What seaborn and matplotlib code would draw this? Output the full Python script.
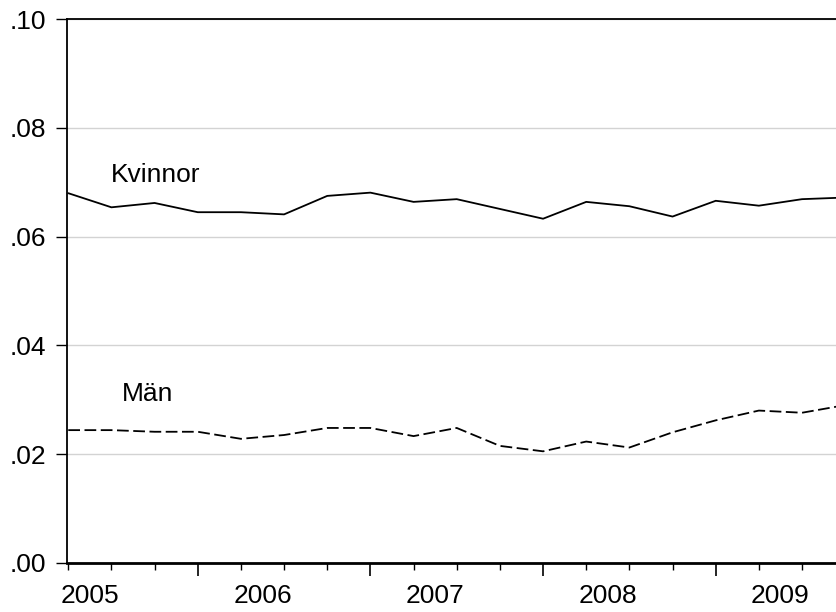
import pandas as pd
import matplotlib
matplotlib.use("Agg")
import matplotlib.pyplot as plt
import seaborn as sns
from matplotlib.ticker import FuncFormatter, FixedLocator

# quarterly series, 2005Q2 .. 2009Q4
quarter = list(range(19))
kvinnor = [0.0680, 0.0654, 0.0662, 0.0645, 0.0645, 0.0641, 0.0675, 0.0681, 0.0664,
           0.0669, 0.0651, 0.0633, 0.0664, 0.0656, 0.0637, 0.0666, 0.0657, 0.0669, 0.0672]
man = [0.0244, 0.0244, 0.0241, 0.0241, 0.0228, 0.0235, 0.0248, 0.0248, 0.0233,
       0.0248, 0.0215, 0.0205, 0.0223, 0.0212, 0.0240, 0.0262, 0.0280, 0.0276, 0.0290]
years = ["2005", "2006", "2007", "2008", "2009"]
year_pos = [0.5, 4.5, 8.5, 12.5, 16.5]
year_ticks = [3, 7, 11, 15]

sns.set_style("white")
plt.rcParams['font.family'] = ['Liberation Sans', 'DejaVu Sans']
plt.rcParams['text.color'] = 'black'
plt.rcParams['xtick.color'] = 'black'
plt.rcParams['ytick.color'] = 'black'

df = pd.DataFrame({"q": quarter, "Kvinnor": kvinnor, "Män": man})

fig = plt.figure(figsize=(8.37, 6.12), dpi=100)
ax = fig.add_axes([0.080, 0.0805, 0.92, 0.888])

sns.lineplot(data=df, x="q", y="Kvinnor", color="black", linewidth=1.3, ax=ax)
sns.lineplot(data=df, x="q", y="Män", color="black", linewidth=1.3,
             linestyle=(0, (6.5, 2.5)), ax=ax)

ax.set_xlim(-0.03, 17.81)
ax.set_ylim(0, 0.10)
ax.set_xlabel("")
ax.set_ylabel("")

# y axis
ax.set_yticks([0, 0.02, 0.04, 0.06, 0.08, 0.10])
ax.yaxis.set_major_formatter(FuncFormatter(lambda v, p: f"{v:.2f}".lstrip("0")))
ax.tick_params(axis="y", which="major", left=True, length=8, width=1,
               pad=7, labelsize=19, labelcolor="black")
ax.yaxis.grid(True, color="#d3d3d3", linewidth=1)
ax.set_axisbelow(True)

# x axis: long ticks at year breaks, short ones at quarters
ax.xaxis.set_major_locator(FixedLocator(year_ticks))
ax.xaxis.set_minor_locator(FixedLocator([q for q in quarter if q not in year_ticks]))
ax.set_xticklabels([])
ax.tick_params(axis="x", which="major", bottom=True, length=9, width=1.2, color="black")
ax.tick_params(axis="x", which="minor", bottom=True, length=5, width=1, color="black")
for x, lab in zip(year_pos, years):
    ax.text(x, -0.0605, lab, transform=ax.get_xaxis_transform(),
            ha="center", va="center", fontsize=19, color="black")

for side in ["left", "top"]:
    ax.spines[side].set_color("black")
    ax.spines[side].set_linewidth(1.3)
ax.spines["bottom"].set_color("black")
ax.spines["bottom"].set_linewidth(2)
ax.spines["right"].set_visible(False)

ax.text(0.98, 0.0701, "Kvinnor", fontsize=19, ha="left", va="baseline", color="black")
ax.text(1.25, 0.0297, "Män", fontsize=19, ha="left", va="baseline", color="black")

fig.savefig("out.png", dpi=100)
